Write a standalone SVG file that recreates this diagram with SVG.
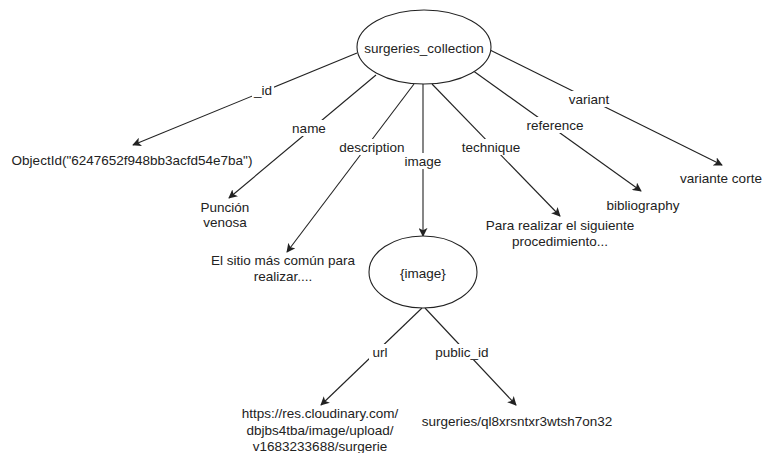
<svg xmlns="http://www.w3.org/2000/svg" width="764" height="453" viewBox="0 0 764 453">
  <style>
    text { font-family: "Liberation Sans", Arial, sans-serif; font-size: 13.5px; fill: #222; text-anchor: middle; dominant-baseline: central; }
    .edge { stroke: #222; stroke-width: 1.1; fill: none; marker-end: url(#arrow); }
    .node { fill: #fff; stroke: #222; stroke-width: 1.1; }
    .lbl { fill: #fff; }
  </style>
  <defs>
    <marker id="arrow" viewBox="0 0 10 10" refX="9" refY="5" markerWidth="9" markerHeight="9" markerUnits="userSpaceOnUse" orient="auto">
      <path d="M0,0 L10,5 L0,10 L2.5,5 Z" fill="#222"/>
    </marker>
  </defs>
  <rect width="764" height="453" fill="#fff"/>

  <g id="connectors">
    <line class="edge" x1="357" y1="53" x2="133" y2="145"/>
    <line class="edge" x1="376" y1="75" x2="229" y2="198"/>
    <line class="edge" x1="414" y1="84" x2="287" y2="252"/>
    <line class="edge" x1="423" y1="84" x2="423" y2="236"/>
    <line class="edge" x1="432" y1="84" x2="560" y2="216"/>
    <line class="edge" x1="472" y1="70" x2="641" y2="191"/>
    <line class="edge" x1="490" y1="50" x2="722" y2="165"/>
    <line class="edge" x1="422" y1="308" x2="321" y2="405"/>
    <line class="edge" x1="425" y1="308" x2="516" y2="405"/>

    <rect class="lbl" x="252" y="82" width="22" height="16"/>
    <text x="263" y="90">_id</text>
    <rect class="lbl" x="291" y="120" width="36" height="16"/>
    <text x="309" y="128">name</text>
    <rect class="lbl" x="336" y="139" width="72" height="16"/>
    <text x="372" y="147">description</text>
    <rect class="lbl" x="404" y="153" width="38" height="16"/>
    <text x="423" y="161">image</text>
    <rect class="lbl" x="460" y="139" width="62" height="16"/>
    <text x="491" y="147">technique</text>
    <rect class="lbl" x="524" y="117" width="62" height="16"/>
    <text x="555" y="125">reference</text>
    <rect class="lbl" x="566" y="91" width="46" height="16"/>
    <text x="589" y="99">variant</text>
    <rect class="lbl" x="369" y="344" width="22" height="16"/>
    <text x="380" y="352">url</text>
    <rect class="lbl" x="432" y="344" width="60" height="16"/>
    <text x="462" y="352">public_id</text>
  </g>

  <g id="surgeries_collection">
    <ellipse class="node" cx="424" cy="47" rx="67" ry="37"/>
    <text x="424" y="48">surgeries_collection</text>
  </g>
  <g id="image_doc">
    <ellipse class="node" cx="423" cy="272" rx="54" ry="36"/>
    <text x="423" y="273">{image}</text>
  </g>

  <g id="objectid">
    <text x="132" y="160">ObjectId("6247652f948bb3acfd54e7ba")</text>
  </g>
  <g id="name_value">
    <text x="225" y="207">Punción</text>
    <text x="225" y="222">venosa</text>
  </g>
  <g id="description_value">
    <text x="283" y="260">El sitio más común para</text>
    <text x="283" y="276">realizar....</text>
  </g>
  <g id="technique_value">
    <text x="560" y="225">Para realizar el siguiente</text>
    <text x="560" y="241">procedimiento...</text>
  </g>
  <g id="reference_value">
    <text x="643" y="205">bibliography</text>
  </g>
  <g id="variant_value">
    <text x="721" y="178">variante corte</text>
  </g>
  <g id="url_value">
    <text x="320" y="413">https://res.cloudinary.com/</text>
    <text x="320" y="430">dbjbs4tba/image/upload/</text>
    <text x="320" y="446">v1683233688/surgerie</text>
  </g>
  <g id="public_id_value">
    <text x="517" y="421">surgeries/ql8xrsntxr3wtsh7on32</text>
  </g>
</svg>
